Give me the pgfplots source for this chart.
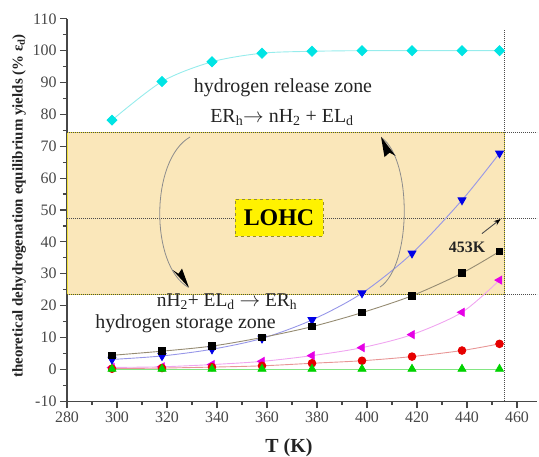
\documentclass[border=0pt]{standalone}
\usepackage{fontspec}
\setmainfont{Liberation Serif}
\usepackage{pgfplots}
\pgfplotsset{compat=1.18}
\usetikzlibrary{arrows.meta}

\definecolor{bandc}{RGB}{250,231,186}
\definecolor{bandedge}{RGB}{240,225,60}
\definecolor{cyanm}{RGB}{0,228,228}
\definecolor{cyanl}{RGB}{150,236,236}
\definecolor{bluem}{RGB}{0,0,230}
\definecolor{bluel}{RGB}{150,150,232}
\definecolor{blackl}{RGB}{150,140,115}
\definecolor{magm}{RGB}{230,0,230}
\definecolor{magl}{RGB}{240,165,240}
\definecolor{redm}{RGB}{230,0,0}
\definecolor{redl}{RGB}{232,150,150}
\definecolor{greenm}{RGB}{0,210,0}
\definecolor{greenl}{RGB}{130,230,130}
\definecolor{boxedge}{RGB}{150,140,50}
\definecolor{txt}{RGB}{35,35,35}

\begin{document}
\begin{tikzpicture}
\begin{axis}[at={(0,0)}, anchor=south west, scale only axis,
  width=470bp, height=382.4bp,
  xmin=280, xmax=468, ymin=-10, ymax=110,
  axis x line*=bottom, axis y line*=left,
  xtick={280,300,...,460}, ytick={-10,0,...,110},
  minor x tick num=1, minor y tick num=1,
  tick align=outside, major tick length=7bp, minor tick length=4bp,
  tick label style={font=\fontsize{16}{16}\selectfont, text=black!72},
  /pgf/number format/assume math mode=true,
  axis line style={line width=1.3bp, black!72},
  every tick/.style={line width=1.2bp, black!72},
  clip=false,
]
% band
\fill[bandc, draw=bandedge, line width=0.8bp] (axis cs:280,23.6) rectangle (axis cs:455,74.3);
% dotted guide lines
\draw[black!70, line width=1bp, dash pattern=on 1bp off 1bp] (axis cs:280,74.3) -- (axis cs:468,74.3);
\draw[black!70, line width=1bp, dash pattern=on 1bp off 1bp] (axis cs:280,47.2) -- (axis cs:468,47.2);
\draw[black!70, line width=1bp, dash pattern=on 1bp off 1bp] (axis cs:280,23.6) -- (axis cs:468,23.6);
\draw[black!70, line width=1bp, dash pattern=on 1bp off 1bp] (axis cs:455,-10) -- (axis cs:455,106.5);

% series
\addplot[cyanl, line width=0.9bp, smooth, mark=square*, mark size=3.5bp,
  mark options={rotate=45, draw=cyanm, fill=cyanm}] coordinates {
 (298,78.2) (318,90.3) (338,96.5) (358,99.2) (378,99.8) (398,100) (418,100) (438,100) (453,100)};
\addplot[bluel, line width=0.9bp, smooth, mark=triangle*, mark size=4.5bp,
  mark options={rotate=180, draw=bluem, fill=bluem}] coordinates {
 (298,3.1) (318,4.2) (338,6.3) (358,9.7) (378,15.5) (398,23.9) (418,36.4) (438,53.1) (453,67.8)};
\addplot[blackl, line width=0.9bp, smooth, mark=square*, mark size=3.3bp,
  mark options={draw=black, fill=black}] coordinates {
 (298,4.4) (318,5.7) (338,7.3) (358,10.0) (378,13.4) (398,17.8) (418,23.1) (438,30.2) (453,37.0)};
\addplot[magl, line width=0.9bp, smooth, mark=triangle*, mark size=4.5bp,
  mark options={rotate=90, draw=magm, fill=magm}] coordinates {
 (298,0.6) (318,0.8) (338,1.5) (358,2.5) (378,4.3) (398,6.8) (418,10.9) (438,17.9) (453,28.0)};
\addplot[redl, line width=0.9bp, smooth, mark=*, mark size=3.8bp,
  mark options={draw=redm, fill=redm}] coordinates {
 (298,0.2) (318,0.4) (338,0.7) (358,1.1) (378,1.9) (398,2.7) (418,4.0) (438,5.9) (453,8.0)};
\addplot[greenl, line width=0.9bp, mark=triangle*, mark size=4.5bp,
  mark options={draw=greenm, fill=greenm}] coordinates {
 (298,0.1) (318,0.1) (338,0.1) (358,0.1) (378,0.1) (398,0.1) (418,0.1) (438,0.1) (453,0.1)};

% curved arrows
\draw[black!45, line width=0.8bp]
  (axis cs:329.2,72.9) .. controls (axis cs:313.2,65.7) and (axis cs:313.2,32.7) .. (axis cs:328.4,25.8);
\draw[black!45, line width=0.8bp]
  (axis cs:405.2,25.8) .. controls (axis cs:418,32.7) and (axis cs:418,65.7) .. (axis cs:406,72.6);
% arrow heads
\fill[black] (axis cs:328.8,25.6) -- (axis cs:322.2,31.2) -- (axis cs:324.6,30.0) -- (axis cs:326.0,31.6) -- cycle;
\fill[black] (axis cs:405.6,73.0) -- (axis cs:411.4,67.0) -- (axis cs:409.0,68.0) -- (axis cs:407.0,66.6) -- cycle;
\draw[black!70, line width=0.9bp, -{Stealth[length=7bp, width=5bp, black]}]
  (axis cs:446,42.6) -- (axis cs:453.5,47.2);

% texts
\node[txt, inner sep=0pt, font=\fontsize{20}{20}\selectfont] at (axis cs:366.4,88.3) {hydrogen release zone};
\node[txt, inner sep=0pt, font=\fontsize{20}{20}\selectfont] at (axis cs:366,78.9) {ER\textsubscript{h}$\rightarrow$ nH\textsubscript{2} + EL\textsubscript{d}};
\node[txt, inner sep=0pt, font=\fontsize{19.5}{20}\selectfont] at (axis cs:344,21.2) {nH\textsubscript{2}+ EL\textsubscript{d} $\rightarrow$ ER\textsubscript{h}};
\node[txt, inner sep=0pt, font=\fontsize{20}{20}\selectfont] at (axis cs:327.4,14.2) {hydrogen storage zone};
\node[fill=yellow, draw=boxedge, dashed, line width=0.9bp, minimum width=88bp, minimum height=37bp, inner sep=0pt,
  font=\bfseries\fontsize{24}{24}\selectfont, text=black] at (axis cs:364.8,47.6) {LOHC};
\node[txt, inner sep=0pt, font=\bfseries\fontsize{16}{16}\selectfont] at (axis cs:440,38.4) {453K};
\end{axis}
\node[rotate=90, txt, inner sep=0pt, font=\bfseries\fontsize{15}{15}\selectfont] at (-48bp,195.2bp)
  {theoretical dehydrogenation equilibrium yields (\% ε\textsubscript{d})};
\node[txt, inner sep=0pt, font=\bfseries\fontsize{20}{20}\selectfont] at (222bp,-47bp) {T (K)};
\pgfresetboundingbox
\path[use as bounding box] (-67bp,-55.8bp) rectangle (472bp,401.2bp);
\end{tikzpicture}
\end{document}
